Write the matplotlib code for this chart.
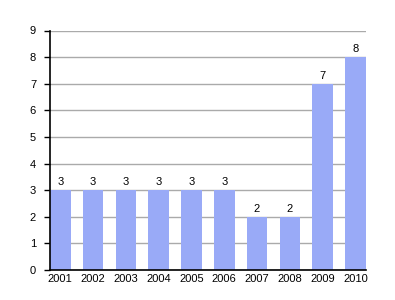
import numpy as np
import matplotlib
matplotlib.use('Agg')
import matplotlib.pyplot as plt

years = ['2001', '2002', '2003', '2004', '2005', '2006', '2007', '2008', '2009', '2010']
values = [3, 3, 3, 3, 3, 3, 2, 2, 7, 8]

plt.rcParams['font.family'] = ['Liberation Sans', 'DejaVu Sans']

fig = plt.figure(figsize=(3.95, 3.0), dpi=100)
ax = fig.add_axes([50 / 395, 0.1, 315.7 / 395, 239.5 / 300])

w = 0.625
x = np.arange(len(years))
ax.bar(x, values, width=w, align='edge', color='#99aaf7', zorder=2)
for xi, v in zip(x, values):
    ax.text(xi + w / 2, v + 0.12, str(v), ha='center', va='bottom', fontsize=8)

ax.set_xlim(0, len(years) - 1 + w)
ax.set_ylim(0, 9)
ax.set_yticks(range(10))
ax.set_xticks(x + w / 2)
ax.set_xticklabels(years)
ax.tick_params(axis='x', length=0, labelsize=8, pad=3)
ax.tick_params(axis='y', length=4, width=1, labelsize=8, pad=6)
ax.yaxis.grid(True, color='#aaaaaa', linewidth=1, zorder=0)
for s in ['top', 'right']:
    ax.spines[s].set_visible(False)
ax.spines['left'].set_linewidth(1.2)
ax.spines['bottom'].set_linewidth(1.2)

fig.savefig('out.png', dpi=100)
